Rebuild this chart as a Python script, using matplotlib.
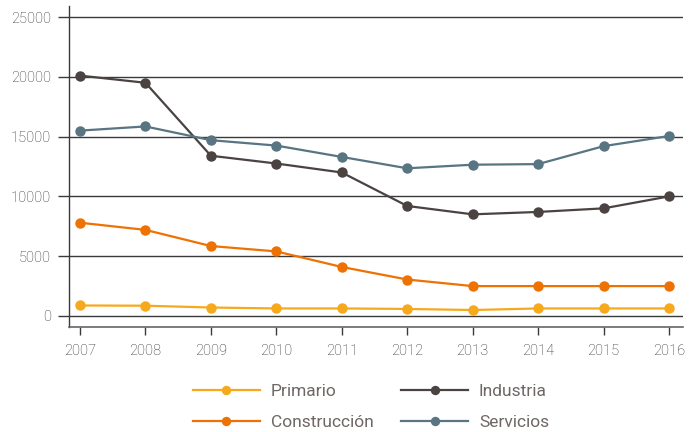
import matplotlib
matplotlib.use("Agg")
import matplotlib.pyplot as plt

years = [2007, 2008, 2009, 2010, 2011, 2012, 2013, 2014, 2015, 2016]
primario = [880, 860, 710, 630, 630, 590, 500, 630, 630, 630]
construccion = [7800, 7200, 5850, 5400, 4100, 3050, 2500, 2500, 2500, 2500]
industria = [20100, 19500, 13400, 12750, 12000, 9200, 8500, 8700, 9000, 10000]
servicios = [15500, 15850, 14700, 14250, 13300, 12350, 12650, 12700, 14200, 15050]
yticks = [0, 5000, 10000, 15000, 20000, 25000]

names = ["Primario", "Construcción", "Industria", "Servicios"]
colors = ["#F7A91D", "#EE7203", "#4B4342", "#587581"]
series = [primario, construccion, industria, servicios]

plt.rcParams['font.family'] = ['Roboto', 'DejaVu Sans']
tick_color = "#2e2e2e"
legend_color = "#6f6766"

fig = plt.figure(figsize=(7, 4.32), dpi=100)
ax = fig.add_axes([69/700, 1-327/432, (683-69)/700, (327-6)/432])

for yt in yticks:
    ax.axhline(yt, color="#3a3a3a", lw=1.0, zorder=1)

for name, c, s in zip(names, colors, series):
    ax.plot(years, s, color=c, lw=1.6, marker='o', markersize=7.5,
            label=name, zorder=3, markeredgewidth=0)

ax.set_xlim(2006.832, 2016.214)
ax.set_ylim(-920, 25920)
ax.set_xticks(years)
ax.set_xticklabels([str(y) for y in years], fontweight='light')
ax.set_yticks(yticks)
ax.set_yticklabels([str(y) for y in yticks], fontweight='light')

for side in ['top', 'right']:
    ax.spines[side].set_visible(False)
ax.spines['left'].set_color("#3a3a3a")
ax.spines['bottom'].set_color("#666666")
ax.spines['left'].set_linewidth(1.0)
ax.spines['bottom'].set_linewidth(1.2)

ax.tick_params(axis='y', length=8, width=1, color="#3a3a3a", labelsize=10.5,
               labelcolor=tick_color, pad=5)
ax.tick_params(axis='x', length=6, width=1, color="#3a3a3a", labelsize=10.5,
               labelcolor=tick_color, pad=6, direction='out')

handles, labels = ax.get_legend_handles_labels()
leg = fig.legend(handles, labels, ncol=2, loc='center',
                 bbox_to_anchor=(371/700, 1-407/432), frameon=False,
                 prop={'family': ['Roboto', 'DejaVu Sans'], 'size': 12.5, 'weight': 'normal'},
                 handlelength=3.85, columnspacing=1.6,
                 labelspacing=0.9, handletextpad=0.63, markerscale=0.9)
for t in leg.get_texts():
    t.set_color(legend_color)

fig.savefig("out.png", dpi=100)
